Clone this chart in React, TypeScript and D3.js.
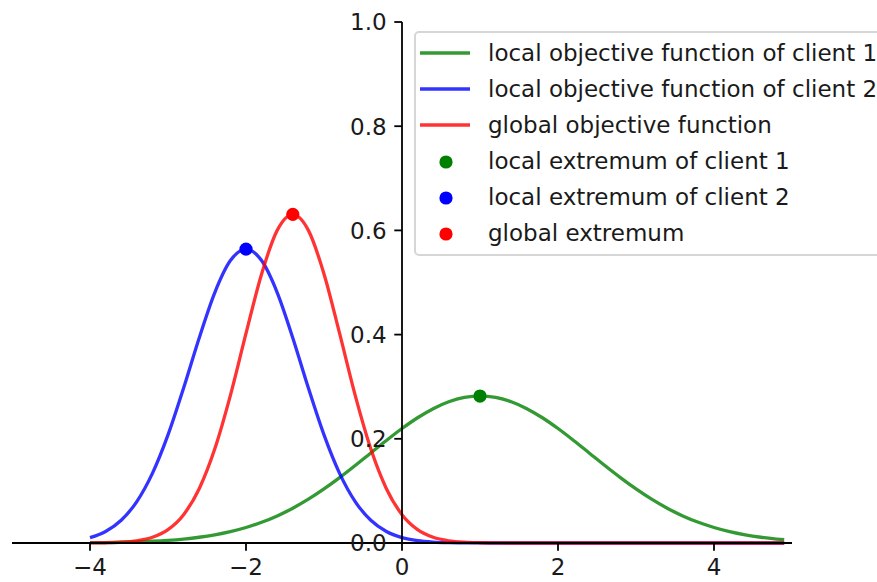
import React from "react";
import * as d3 from "d3";

// Sample positions along the x axis
const X_VALUES = [
  -4.0, -3.8, -3.6, -3.4, -3.2, -3.0, -2.8, -2.6, -2.4, -2.2,
  -2.0, -1.8, -1.6, -1.4, -1.2, -1.0, -0.8, -0.6, -0.4, -0.2,
  0.0, 0.2, 0.4, 0.6, 0.8, 1.0, 1.2, 1.4, 1.6, 1.8,
  2.0, 2.2, 2.4, 2.6, 2.8, 3.0, 3.2, 3.4, 3.6, 3.8,
  4.0, 4.2, 4.4, 4.6, 4.8, 4.9,
];

// Local objective of client 1
const CLIENT1_VALUES = [
  0.000544, 0.000889, 0.001422, 0.002231, 0.003429, 0.005167, 0.007631, 0.011048, 0.015677, 0.021807,
  0.029732, 0.039735, 0.052052, 0.066835, 0.084119, 0.103776, 0.125491, 0.148744, 0.172817, 0.196809,
  0.219693, 0.240384, 0.257814, 0.27103, 0.279283, 0.282095, 0.279283, 0.27103, 0.257814, 0.240384,
  0.219693, 0.196809, 0.172817, 0.148744, 0.125491, 0.103776, 0.084119, 0.066835, 0.052052, 0.039735,
  0.029732, 0.021807, 0.015677, 0.011048, 0.007631, 0.006293,
];

// Local objective of client 2
const CLIENT2_VALUES = [
  0.010334, 0.022096, 0.043615, 0.079471, 0.133672, 0.207554, 0.297493, 0.393627, 0.480771, 0.542067,
  0.56419, 0.542067, 0.480771, 0.393627, 0.297493, 0.207554, 0.133672, 0.079471, 0.043615, 0.022096,
  0.010334, 0.004461, 0.001778, 0.000654, 0.000222, 0.00007, 0.00002, 0, 0, 0,
  0, 0, 0, 0, 0, 0, 0, 0, 0, 0,
  0, 0, 0, 0, 0, 0,
];

// Global objective
const GLOBAL_VALUES = [
  0.000135, 0.000471, 0.001487, 0.00425, 0.01099, 0.025712, 0.054433, 0.104268, 0.180723, 0.283429,
  0.402203, 0.516441, 0.60002, 0.630783, 0.60002, 0.516441, 0.402203, 0.283429, 0.180723, 0.104268,
  0.054433, 0.025712, 0.01099, 0.00425, 0.001487, 0.000471, 0.000135, 0, 0, 0,
  0, 0, 0, 0, 0, 0, 0, 0, 0, 0,
  0, 0, 0, 0, 0, 0,
];

// Extremum points: client 1, client 2, global
const EXTREMUM_X = [1.0, -2.0, -1.4];
const EXTREMUM_Y = [0.282095, 0.56419, 0.630783];

const X_TICKS = [-4, -2, 0, 2, 4];
const Y_TICKS = [0.0, 0.2, 0.4, 0.6, 0.8, 1.0];

const LINE_LABELS = [
  "local objective function of client 1",
  "local objective function of client 2",
  "global objective function",
];
const POINT_LABELS = [
  "local extremum of client 1",
  "local extremum of client 2",
  "global extremum",
];
const COLORS = ["#008000", "#0000ff", "#ff0000"];

const W = 877;
const H = 582;
const FONT = "'DejaVu Sans', sans-serif";
const FS = 23;
const TEXT = "#1a1a1a";

export default function App() {
  const x = d3.scaleLinear().domain([-5, 5]).range([12, 792]);
  const y = d3.scaleLinear().domain([0, 1]).range([543, 22]);

  const series = [CLIENT1_VALUES, CLIENT2_VALUES, GLOBAL_VALUES];
  const line = d3
    .line<number>()
    .x((_, i) => x(X_VALUES[i]))
    .y((d) => y(d))
    .curve(d3.curveMonotoneX);

  const x0 = x(0);
  const y0 = y(0);
  const tickLen = 7.7;
  const pad = 7.7;

  const legendLeft = 415;
  const legendTop = 32;
  const rowY = (i: number) => 53 + i * 36;

  return (
    <div style={{ position: "fixed", left: 0, top: 0 }}>
      <svg width={W} height={H} style={{ display: "block", background: "#fff" }}>
        {/* extremum markers */}
        {EXTREMUM_X.map((ex, i) => (
          <circle key={"m" + i} cx={x(ex)} cy={y(EXTREMUM_Y[i])} r={6.6} fill={COLORS[i]} />
        ))}
        {/* objective curves */}
        {series.map((s, i) => (
          <path
            key={"l" + i}
            d={line(s) || ""}
            fill="none"
            stroke={COLORS[i]}
            strokeOpacity={0.8}
            strokeWidth={3.3}
            strokeLinejoin="round"
            strokeLinecap="butt"
          />
        ))}
        {/* spines through the origin */}
        <line x1={x(-5)} x2={x(5)} y1={y0} y2={y0} stroke="#000" strokeWidth={1.8} />
        <line x1={x0} x2={x0} y1={y(0)} y2={y(1)} stroke="#000" strokeWidth={1.8} />
        {/* x ticks */}
        {X_TICKS.map((t) => (
          <g key={"xt" + t}>
            <line x1={x(t)} x2={x(t)} y1={y0} y2={y0 + tickLen} stroke="#000" strokeWidth={1.8} />
            <text
              x={x(t)}
              y={y0 + tickLen + pad + 16.5}
              textAnchor="middle"
              fontFamily={FONT}
              fontSize={FS}
              fill={TEXT}
            >
              {t < 0 ? "\u2212" + Math.abs(t) : String(t)}
            </text>
          </g>
        ))}
        {/* y ticks */}
        {Y_TICKS.map((t) => (
          <g key={"yt" + t}>
            <line x1={x0 - tickLen} x2={x0} y1={y(t)} y2={y(t)} stroke="#000" strokeWidth={1.8} />
            <text
              x={x0 - tickLen - pad}
              y={y(t) + 8.3}
              textAnchor="end"
              fontFamily={FONT}
              fontSize={FS}
              fill={TEXT}
            >
              {d3.format(".1f")(t)}
            </text>
          </g>
        ))}
        {/* legend */}
        <rect
          x={legendLeft}
          y={legendTop}
          width={500}
          height={223}
          rx={4}
          ry={4}
          fill="#fff"
          fillOpacity={0.8}
          stroke="#cccccc"
          strokeOpacity={0.8}
          strokeWidth={2}
        />
        {LINE_LABELS.map((lab, i) => (
          <g key={"ll" + i}>
            <line
              x1={420}
              x2={470}
              y1={rowY(i)}
              y2={rowY(i)}
              stroke={COLORS[i]}
              strokeOpacity={0.8}
              strokeWidth={3.3}
            />
            <text x={488} y={rowY(i) + 8.3} fontFamily={FONT} fontSize={FS} fill={TEXT}>
              {lab}
            </text>
          </g>
        ))}
        {POINT_LABELS.map((lab, i) => (
          <g key={"pl" + i}>
            <circle cx={446} cy={rowY(i + 3) + 1} r={6.6} fill={COLORS[i]} />
            <text x={488} y={rowY(i + 3) + 8.3} fontFamily={FONT} fontSize={FS} fill={TEXT}>
              {lab}
            </text>
          </g>
        ))}
      </svg>
    </div>
  );
}
